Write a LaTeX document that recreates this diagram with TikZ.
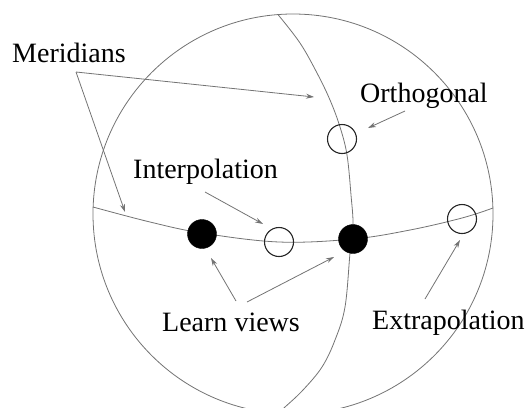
\documentclass[tikz,border=0pt]{standalone}
\usepackage{fontspec}
\setmainfont{Liberation Serif}
\usetikzlibrary{arrows.meta}
\begin{document}
\begin{tikzpicture}[x=1pt,y=-1pt,
  lbl/.style={inner sep=0pt,anchor=base west,font=\fontsize{28}{30}\selectfont},
  thinline/.style={draw=black!55,line width=0.8pt},
  pointer/.style={draw=black!55,line width=0.8pt,-{Stealth[length=8pt,width=5pt]}},
  openview/.style={circle,draw=black!85,line width=1.1pt,minimum size=29pt,inner sep=0pt,fill=none},
  learnview/.style={circle,draw=black,fill=black,minimum size=29pt,inner sep=0pt}]
\useasboundingbox (0,0) rectangle (526,407);
\begin{scope}
\clip (0,0) rectangle (526,407);
% sphere outline
\draw[thinline] (293,214) circle[radius=200];
% equator
\draw[thinline] plot[smooth,tension=0.6] coordinates {(93,207) (150,222) (202,233) (279,242) (353,239) (410,230) (462,218) (493,208)};
% meridian
\draw[thinline] plot[smooth,tension=0.6] coordinates {(278,14.6) (300,43) (317,73) (330,100) (340,127) (347,155) (351,195) (353,225) (350,253) (345,307) (335,340) (322,367) (303,390) (285,407) (270,420)};
\end{scope}
% views
\node[learnview] (l1) at (202,234) {};
\node[learnview] (l2) at (353,239) {};
\node[openview] (ip) at (279,242) {};
\node[openview] (ex) at (462,219) {};
\node[openview] (or) at (342,139) {};
% labels
\node[lbl] (mer) at (12,62) {Meridians};
\node[lbl] (ort) at (360,102) {Orthogonal};
\node[lbl] (int) at (133,178) {Interpolation};
\node[lbl] (lv) at (162,331) {Learn views};
\node[lbl] (ext) at (372,329) {Extrapolation};
% arrow anchors
\coordinate (m0) at (76,72);
\coordinate (m1) at (314,97);
\coordinate (m2) at (125,212);
\coordinate (o0) at (405,111);
\coordinate (o1) at (368,128);
\coordinate (i0) at (205,192);
\coordinate (i1) at (263,224);
\coordinate (lv0) at (236,301);
\coordinate (lv1) at (247,302);
\coordinate (lt1) at (211,258);
\coordinate (lt2) at (334,257);
\coordinate (e0) at (425,299);
\coordinate (e1) at (460,240);
% pointers
\draw[pointer] (m0) -- (m1);
\draw[pointer] (m0) -- (m2);
\draw[pointer] (o0) -- (o1);
\draw[pointer] (i0) -- (i1);
\draw[pointer] (lv0) -- (lt1);
\draw[pointer] (lv1) -- (lt2);
\draw[pointer] (e0) -- (e1);
\end{tikzpicture}
\end{document}
